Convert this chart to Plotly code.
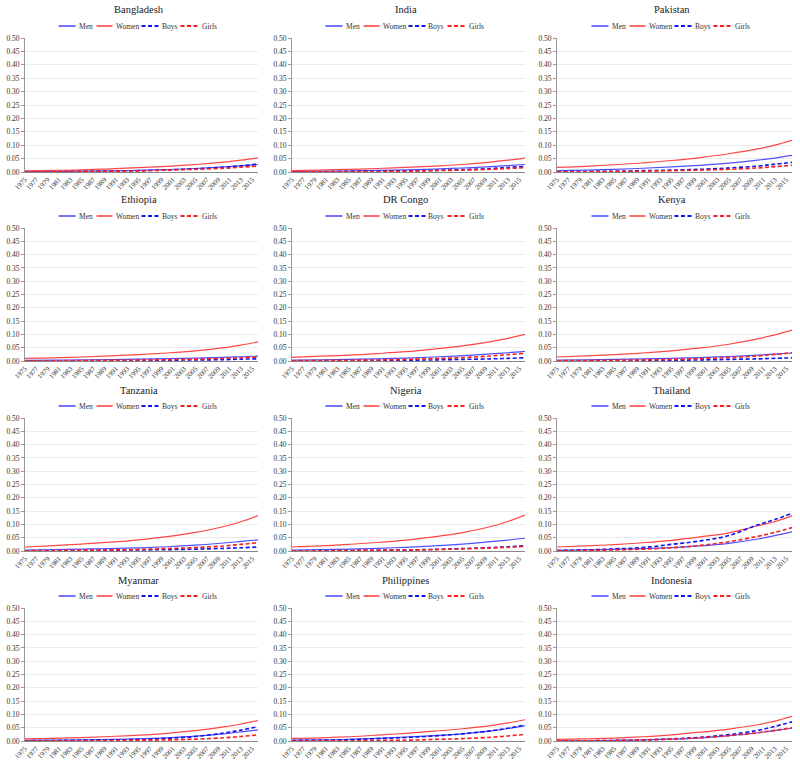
import plotly.graph_objects as go

years = [1975, 1980, 1985, 1990, 1995, 2000, 2005, 2010, 2013, 2016]
tick_years = list(range(1975, 2016, 2))
y_ticks = [0.0, 0.05, 0.10, 0.15, 0.20, 0.25, 0.30, 0.35, 0.40, 0.45, 0.50]

countries = ["Bangladesh", "India", "Pakistan", "Ethiopia", "DR Congo", "Kenya",
             "Tanzania", "Nigeria", "Thailand", "Myanmar", "Philippines", "Indonesia"]

bangladesh_men = [0.001, 0.002, 0.003, 0.004, 0.006, 0.009, 0.013, 0.019, 0.023, 0.028]
bangladesh_women = [0.004, 0.006, 0.008, 0.012, 0.016, 0.021, 0.028, 0.037, 0.044, 0.053]
bangladesh_boys = [0.000, 0.001, 0.002, 0.003, 0.005, 0.008, 0.012, 0.018, 0.023, 0.030]
bangladesh_girls = [0.000, 0.001, 0.002, 0.003, 0.004, 0.007, 0.010, 0.014, 0.018, 0.022]

india_men = [0.002, 0.003, 0.004, 0.006, 0.008, 0.011, 0.015, 0.020, 0.024, 0.028]
india_women = [0.005, 0.007, 0.010, 0.013, 0.017, 0.022, 0.028, 0.037, 0.044, 0.052]
india_boys = [0.001, 0.001, 0.002, 0.003, 0.004, 0.006, 0.009, 0.013, 0.017, 0.021]
india_girls = [0.001, 0.001, 0.001, 0.002, 0.003, 0.005, 0.007, 0.010, 0.013, 0.016]

pakistan_men = [0.005, 0.007, 0.010, 0.014, 0.019, 0.025, 0.033, 0.044, 0.052, 0.062]
pakistan_women = [0.017, 0.021, 0.027, 0.034, 0.043, 0.054, 0.068, 0.086, 0.100, 0.118]
pakistan_boys = [0.001, 0.002, 0.003, 0.005, 0.007, 0.010, 0.015, 0.022, 0.029, 0.036]
pakistan_girls = [0.001, 0.001, 0.002, 0.003, 0.005, 0.007, 0.010, 0.015, 0.020, 0.025]

ethiopia_men = [0.002, 0.003, 0.004, 0.005, 0.007, 0.009, 0.011, 0.014, 0.016, 0.018]
ethiopia_women = [0.010, 0.012, 0.015, 0.019, 0.024, 0.030, 0.038, 0.050, 0.060, 0.072]
ethiopia_boys = [0.000, 0.001, 0.001, 0.002, 0.002, 0.003, 0.004, 0.005, 0.007, 0.008]
ethiopia_girls = [0.001, 0.001, 0.002, 0.003, 0.004, 0.005, 0.007, 0.010, 0.012, 0.015]

drcongo_men = [0.003, 0.004, 0.006, 0.008, 0.011, 0.015, 0.020, 0.027, 0.031, 0.036]
drcongo_women = [0.014, 0.018, 0.022, 0.028, 0.035, 0.045, 0.057, 0.073, 0.085, 0.100]
drcongo_boys = [0.001, 0.001, 0.002, 0.002, 0.003, 0.004, 0.006, 0.008, 0.010, 0.012]
drcongo_girls = [0.001, 0.002, 0.003, 0.004, 0.006, 0.009, 0.013, 0.019, 0.024, 0.029]

kenya_men = [0.003, 0.004, 0.006, 0.008, 0.010, 0.013, 0.017, 0.022, 0.026, 0.030]
kenya_women = [0.015, 0.019, 0.024, 0.030, 0.038, 0.049, 0.063, 0.083, 0.098, 0.116]
kenya_boys = [0.001, 0.001, 0.002, 0.002, 0.003, 0.004, 0.006, 0.008, 0.010, 0.012]
kenya_girls = [0.001, 0.002, 0.003, 0.004, 0.006, 0.009, 0.013, 0.019, 0.025, 0.031]

tanzania_men = [0.003, 0.005, 0.007, 0.009, 0.012, 0.016, 0.022, 0.030, 0.036, 0.042]
tanzania_women = [0.015, 0.020, 0.026, 0.033, 0.042, 0.054, 0.070, 0.092, 0.110, 0.133]
tanzania_boys = [0.001, 0.001, 0.002, 0.003, 0.004, 0.005, 0.007, 0.010, 0.012, 0.015]
tanzania_girls = [0.001, 0.002, 0.003, 0.004, 0.006, 0.009, 0.013, 0.019, 0.025, 0.031]

nigeria_men = [0.003, 0.005, 0.007, 0.010, 0.014, 0.019, 0.026, 0.035, 0.041, 0.048]
nigeria_women = [0.015, 0.019, 0.025, 0.032, 0.041, 0.053, 0.069, 0.092, 0.111, 0.135]
nigeria_boys = [0.001, 0.001, 0.002, 0.003, 0.004, 0.006, 0.009, 0.013, 0.016, 0.020]
nigeria_girls = [0.001, 0.001, 0.002, 0.003, 0.004, 0.005, 0.008, 0.011, 0.014, 0.017]

thailand_men = [0.002, 0.004, 0.006, 0.009, 0.013, 0.019, 0.029, 0.045, 0.058, 0.072]
thailand_women = [0.015, 0.019, 0.024, 0.031, 0.040, 0.053, 0.068, 0.095, 0.110, 0.132]
thailand_boys = [0.002, 0.004, 0.008, 0.013, 0.025, 0.038, 0.058, 0.098, 0.118, 0.142]
thailand_girls = [0.001, 0.002, 0.004, 0.007, 0.012, 0.021, 0.035, 0.055, 0.070, 0.088]

myanmar_men = [0.002, 0.003, 0.004, 0.006, 0.008, 0.012, 0.018, 0.027, 0.034, 0.042]
myanmar_women = [0.008, 0.010, 0.013, 0.017, 0.022, 0.029, 0.039, 0.053, 0.064, 0.077]
myanmar_boys = [0.001, 0.002, 0.003, 0.004, 0.006, 0.010, 0.017, 0.030, 0.041, 0.054]
myanmar_girls = [0.000, 0.001, 0.001, 0.002, 0.003, 0.004, 0.007, 0.012, 0.017, 0.023]

philippines_men = [0.003, 0.004, 0.006, 0.010, 0.015, 0.020, 0.027, 0.038, 0.047, 0.058]
philippines_women = [0.010, 0.012, 0.016, 0.022, 0.029, 0.037, 0.046, 0.058, 0.068, 0.080]
philippines_boys = [0.002, 0.003, 0.005, 0.009, 0.013, 0.019, 0.027, 0.038, 0.048, 0.060]
philippines_girls = [0.000, 0.001, 0.001, 0.002, 0.003, 0.006, 0.009, 0.014, 0.019, 0.025]

indonesia_men = [0.001, 0.001, 0.002, 0.004, 0.007, 0.012, 0.020, 0.031, 0.039, 0.048]
indonesia_women = [0.006, 0.008, 0.011, 0.016, 0.023, 0.033, 0.045, 0.061, 0.075, 0.093]
indonesia_boys = [0.001, 0.001, 0.002, 0.004, 0.008, 0.014, 0.024, 0.040, 0.055, 0.072]
indonesia_girls = [0.001, 0.001, 0.002, 0.004, 0.007, 0.012, 0.020, 0.031, 0.040, 0.050]

data = {
    "Bangladesh": (bangladesh_men, bangladesh_women, bangladesh_boys, bangladesh_girls),
    "India": (india_men, india_women, india_boys, india_girls),
    "Pakistan": (pakistan_men, pakistan_women, pakistan_boys, pakistan_girls),
    "Ethiopia": (ethiopia_men, ethiopia_women, ethiopia_boys, ethiopia_girls),
    "DR Congo": (drcongo_men, drcongo_women, drcongo_boys, drcongo_girls),
    "Kenya": (kenya_men, kenya_women, kenya_boys, kenya_girls),
    "Tanzania": (tanzania_men, tanzania_women, tanzania_boys, tanzania_girls),
    "Nigeria": (nigeria_men, nigeria_women, nigeria_boys, nigeria_girls),
    "Thailand": (thailand_men, thailand_women, thailand_boys, thailand_girls),
    "Myanmar": (myanmar_men, myanmar_women, myanmar_boys, myanmar_girls),
    "Philippines": (philippines_men, philippines_women, philippines_boys, philippines_girls),
    "Indonesia": (indonesia_men, indonesia_women, indonesia_boys, indonesia_girls),
}

series_names = ["Men", "Women", "Boys", "Girls"]
series_styles = [
    dict(color="rgb(80,80,255)", width=1.2, dash="solid"),
    dict(color="rgb(255,70,70)", width=1.2, dash="solid"),
    dict(color="rgb(20,20,240)", width=1.6, dash="4px,2.5px"),
    dict(color="rgb(250,30,30)", width=1.6, dash="4px,2.5px"),
]
# legend sample offsets (px) relative to panel legend centre: line start, line end
legend_offsets = [(-80, -63), (-42, -26), (3, 20), (42, 60)]

W, H = 800, 766
col_px = [(25, 258), (292, 525), (557, 792)]
row_px = [(38, 172), (228, 361), (418, 551), (608, 741)]

FONT = "Liberation Serif"

fig = go.Figure()
layout = dict(
    width=W, height=H, margin=dict(l=0, r=0, t=0, b=0, autoexpand=False),
    paper_bgcolor="white", plot_bgcolor="white",
    font=dict(family=FONT, color="#333"),
    showlegend=False,
    annotations=[], shapes=[],
)

for i, c in enumerate(countries):
    r, k = divmod(i, 3)
    x0, x1 = col_px[k]
    top, bot = row_px[r]
    ax = "" if i == 0 else str(i + 1)
    xd = [x0 / W, x1 / W]
    yd = [1 - bot / H, 1 - top / H]
    for name, vals, st in zip(series_names, data[c], series_styles):
        fig.add_trace(go.Scatter(
            x=years, y=vals, name=name, mode="lines",
            line=dict(color=st["color"], width=st["width"], dash=st["dash"], shape="spline"),
            xaxis="x" + ax, yaxis="y" + ax, showlegend=False,
            hoverinfo="skip",
        ))
    layout["xaxis" + ax] = dict(
        domain=xd, anchor="y" + ax, range=[1975, 2016],
        tickmode="array", tickvals=tick_years, ticktext=[str(t) for t in tick_years],
        tickangle=-45, tickfont=dict(size=7, family=FONT, color="#333"),
        showgrid=False, showline=True, linecolor="#888", linewidth=1,
        ticks="", zeroline=False, fixedrange=True, automargin=False,
    )
    layout["yaxis" + ax] = dict(
        domain=yd, anchor="x" + ax, range=[0, 0.5],
        tickmode="array", tickvals=y_ticks, ticktext=[f"{v:.2f}" for v in y_ticks],
        tickfont=dict(size=7.5, family=FONT, color="#333"),
        showgrid=True, gridcolor="#ececec", gridwidth=1,
        showline=True, linecolor="#999", linewidth=1,
        ticks="outside", ticklen=3, tickcolor="#999",
        zeroline=False, fixedrange=True, automargin=False,
    )
    cx_px = (x0 + x1) / 2 - 3
    layout["annotations"].append(dict(
        text=c, x=cx_px / W, y=1 - (top - 28) / H, xref="paper", yref="paper",
        xanchor="center", yanchor="middle", showarrow=False,
        font=dict(size=10.5, family=FONT, color="#222"),
    ))
    ly = 1 - (top - 12) / H
    for name, st, (a, b) in zip(series_names, series_styles, legend_offsets):
        layout["shapes"].append(dict(
            type="line", xref="paper", yref="paper",
            x0=(cx_px + a) / W, x1=(cx_px + b) / W, y0=ly, y1=ly,
            line=dict(color=st["color"], width=st["width"] + 0.4, dash=st["dash"]),
        ))
        layout["annotations"].append(dict(
            text=name, x=(cx_px + b + 1) / W, y=ly, xref="paper", yref="paper",
            xanchor="left", yanchor="middle", showarrow=False,
            font=dict(size=7.5, family=FONT, color="#333"),
        ))

fig.update_layout(**layout)
fig.write_html("out.html", config={"displayModeBar": False},
               post_script="document.body.style.margin='0';document.body.style.padding='0';")
